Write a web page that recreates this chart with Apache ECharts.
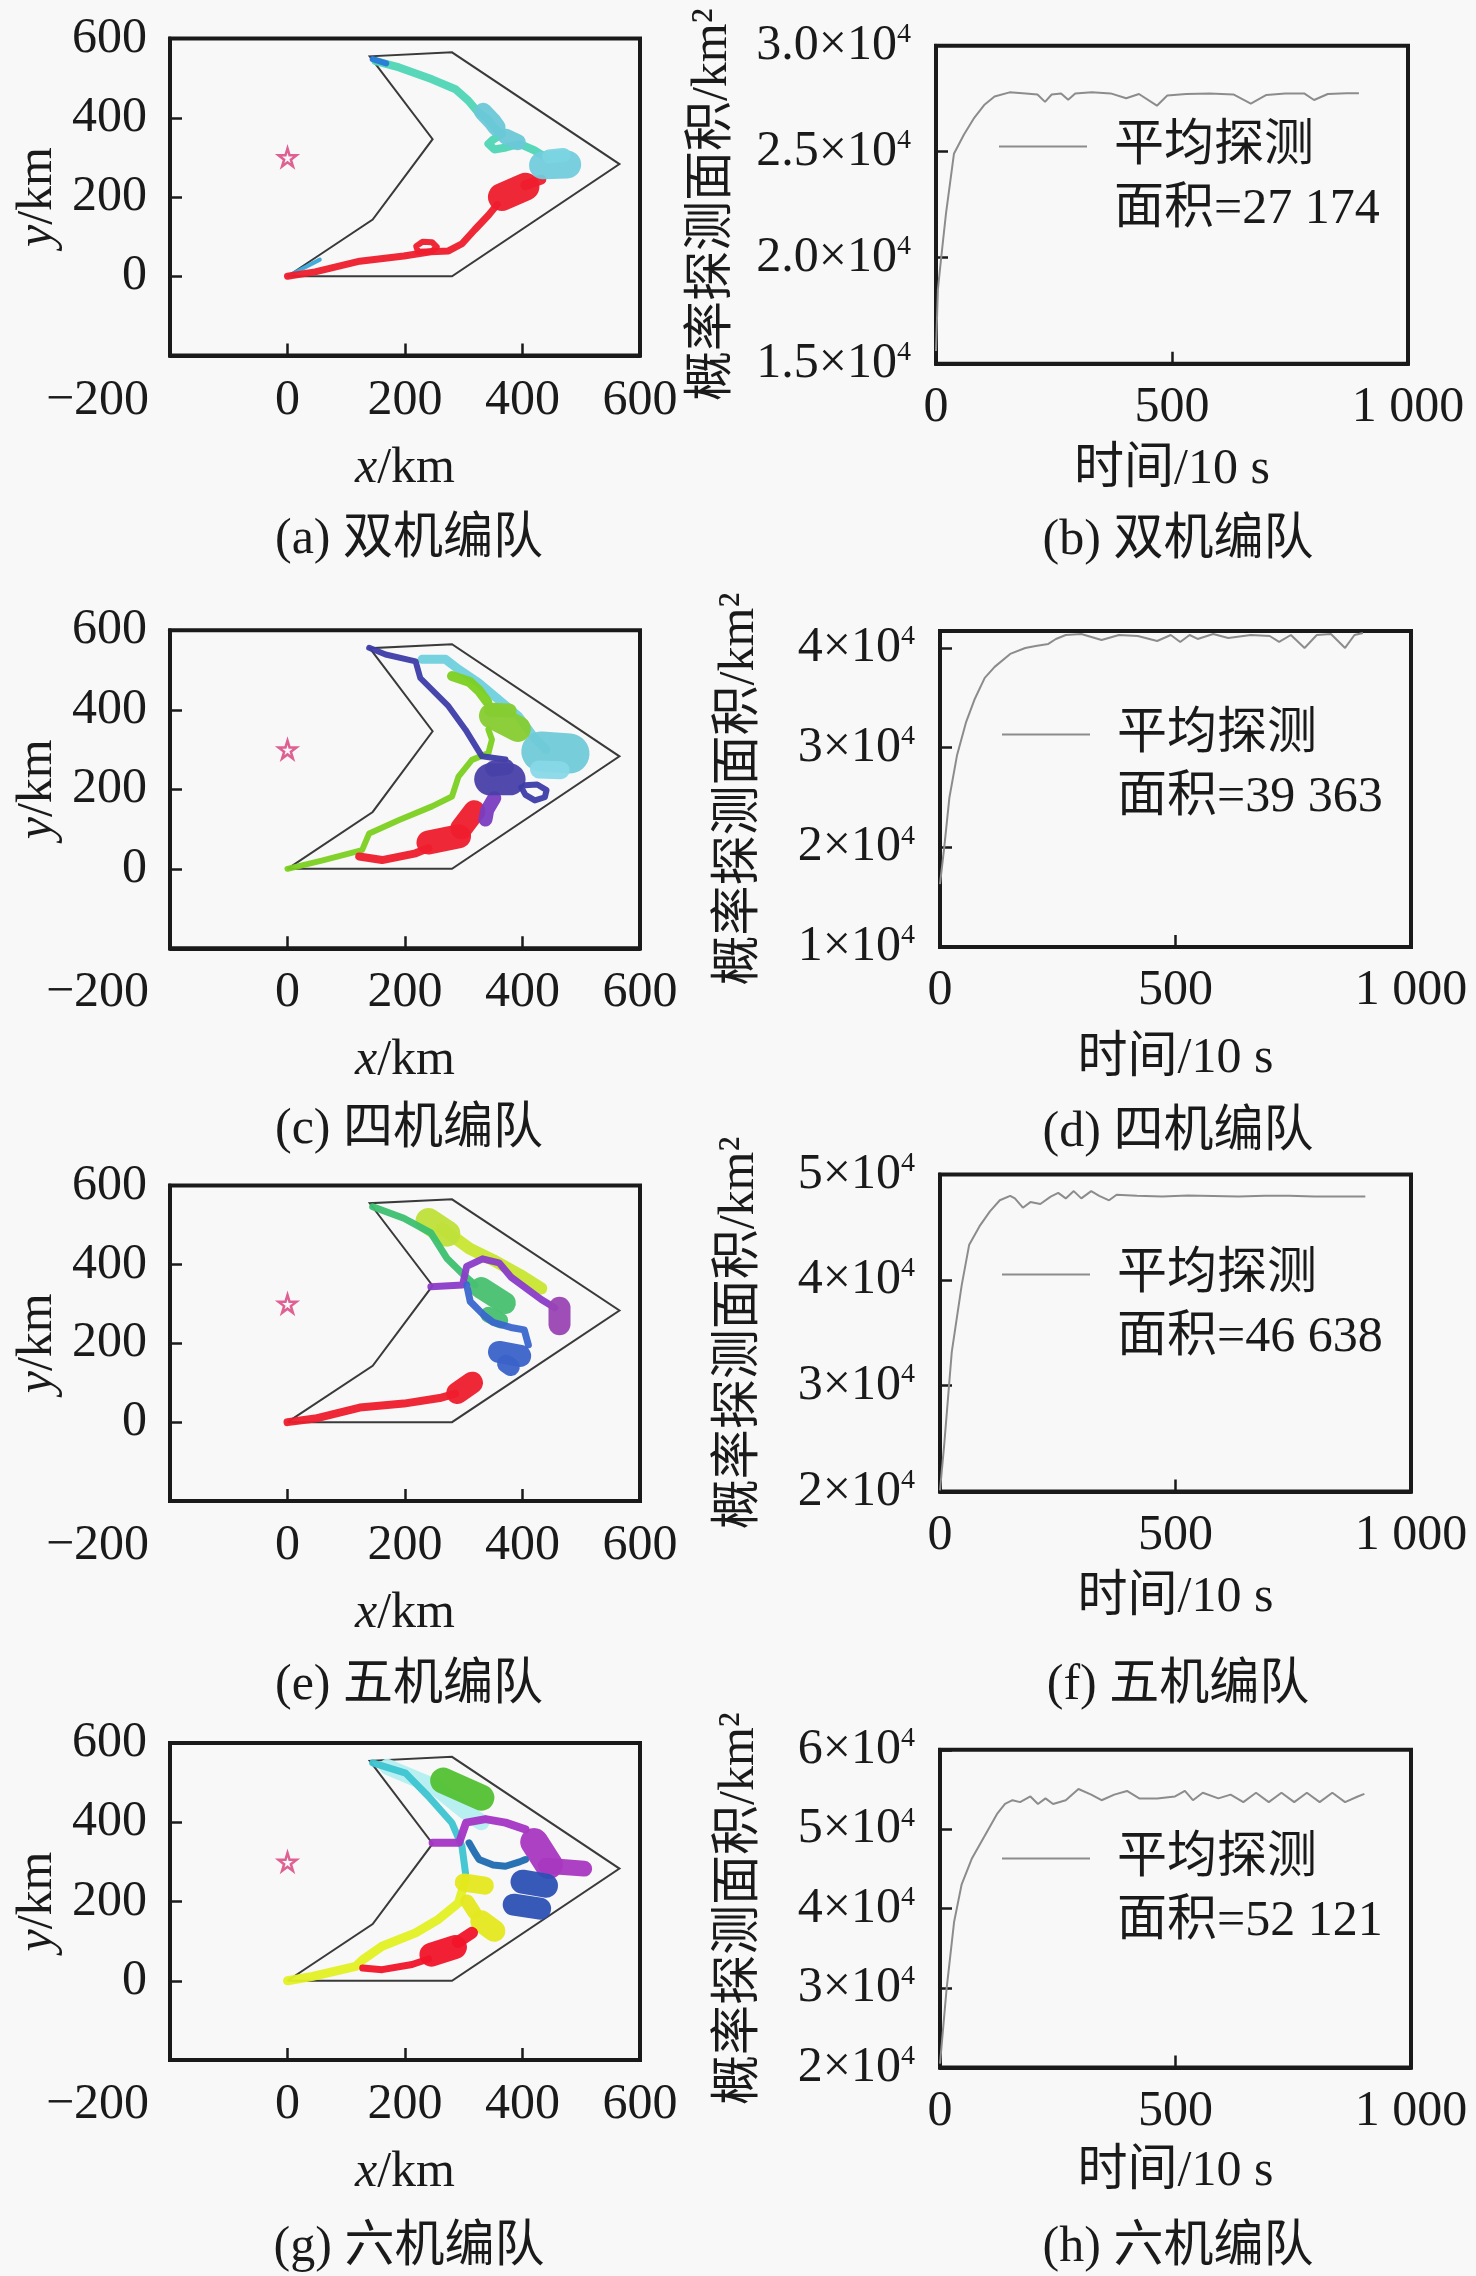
<!DOCTYPE html>
<html>
<head>
<meta charset="utf-8">
<script src="https://cdn.jsdelivr.net/npm/echarts@6/dist/echarts.min.js"></script>
<style>
html,body{margin:0;padding:0;background:#f8f8f8;}
#main{width:1476px;height:2276px;}
</style>
</head>
<body>
<div id="main"></div>
<script>
// 任务区边界与目标点
var bound = [[0,0],[280,0],[565,283],[280,565],[140,555],[247,346],[145,143],[0,0]];
var target = [[0,300]];

// (a) 双机编队 轨迹
var aBlueLow = [[3,2],[55,42]];
var aRed = [[0,0],[47,11],[123,38],[198,51],[244,62],[274,64],[297,82],[319,118],[342,154],[357,181]];
var aRedLoop = [[222,62],[219,76],[230,87],[246,86],[254,74],[246,63],[222,62]];
var aRedBlob = [[365,200],[405,226]];
var aRedTail = [[405,230],[432,244]];
var aBlue = [[145,548],[168,537]];
var aTeal = [[150,543],[190,527],[246,497],[286,472],[308,443],[325,413],[340,398],[352,375],[365,359],[350,345],[342,334],[352,320],[372,325],[395,334],[420,318],[440,300]];
var aCyanBlob = [[333,415],[348,392],[356,376]];
var aCyanMid = [[372,352],[392,338]];
var aCyanBig = [[435,280],[476,282]];
var aCyanLow = [[445,302],[470,306]];

// (c) 四机编队 轨迹
var cIndigo = [[139,556],[167,539],[218,522],[226,480],[274,409],[303,350],[331,283],[355,278],[371,275]];
var cIndigoBlob = [[345,225],[378,225]];
var cIndigoBlob2 = [[350,252],[372,256]];
var cIndigoLoop = [[398,205],[405,186],[421,172],[438,180],[441,198],[425,212],[404,210]];
var cPurple = [[352,178],[340,148],[337,124]];
var cRed = [[122,31],[161,22],[218,39],[240,52]];
var cRedBlob = [[240,66],[292,82]];
var cRedBlob2 = [[296,102],[318,145]];
var cGreen = [[0,0],[60,21],[127,47],[139,89],[190,123],[246,157],[280,182],[291,232],[314,274],[342,291],[348,325],[342,350]];
var cGreenBlob = [[348,385],[392,352]];
var cGreenBlob2 = [[346,400],[378,398]];
var cGreen2 = [[280,485],[310,470],[326,448],[340,420]];
var cCyan = [[229,527],[269,527],[291,502],[325,468],[359,426],[393,384],[420,330],[440,300]];
var cCyanBlob = [[432,295],[480,290]];
var cCyanLow = [[428,250],[465,248]];

// (e) 五机编队 轨迹
var eRed = [[0,0],[47,9],[123,37],[198,47],[259,61],[285,72]];
var eRedBlob = [[289,74],[314,100]];
var eGreen = [[145,546],[198,517],[244,480],[272,414],[298,376],[319,348]];
var eGreenBlob = [[330,340],[370,302]];
var eGreenBlob2 = [[342,272],[362,258]];
var eLime = [[240,510],[272,478]];
var eLimeBand = [[262,492],[310,440],[350,411],[395,374],[432,339]];
var ePurple = [[244,343],[298,348],[305,395],[332,414],[360,404],[381,367],[432,311],[455,290]];
var ePurpleBlob = [[463,290],[463,248]];
var eBlue = [[305,348],[311,306],[335,270],[350,253],[380,240],[403,234],[410,196]];
var eBlueBlob = [[360,178],[396,168]];
var eBlueBlob2 = [[372,148],[380,140]];

// (g) 六机编队 轨迹
var gPale = [[170,540],[250,490],[300,430],[330,400]];
var gTeal = [[145,550],[201,524],[240,465],[280,398],[297,339],[303,272]];
var gGreen = [[265,505],[330,462]];
var gYellow = [[0,0],[43,11],[116,36],[128,53],[161,87],[218,121],[257,155],[291,196],[303,255]];
var gYellowBlob = [[300,248],[336,240]];
var gYellowMid = [[306,200],[318,172]];
var gYellowLow = [[330,150],[352,126]];
var gRed = [[128,32],[161,28],[212,41],[240,55]];
var gRedBlob = [[245,66],[285,85]];
var gRedTail = [[290,98],[314,121]];
var gMagenta = [[247,348],[292,348],[304,399],[337,408],[371,399],[405,382]];
var gMagentaBlob = [[420,350],[445,292]];
var gMagentaTail = [[440,290],[505,283]];
var gRing = [[309,348],[320,320],[326,306],[350,292],[371,289],[395,300],[405,306]];
var gBlueBlob = [[400,250],[440,240]];
var gBlueBlob2 = [[385,192],[430,182]];

// 概率探测面积曲线
var tB = [0,4,11,21,38,59,81,102,124,156,190,215,231,245,265,280,295,330,370,403,430,468,490,530,580,630,667,700,740,780,801,830,870,896];
var vB = [15600,18500,20000,22050,24900,25800,26600,27200,27600,27800,27750,27700,27350,27700,27750,27450,27750,27800,27750,27520,27720,27170,27650,27720,27750,27700,27270,27680,27740,27750,27440,27720,27760,27760];
var tD = [0,9,20,36,55,73,95,116,149,181,203,230,246,267,300,343,380,420,461,490,510,530,547,580,612,660,700,720,745,774,800,830,860,880,898];
var vD = [16300,20000,25000,29200,32500,34800,37000,38100,39400,40000,40200,40400,40900,41300,41400,40800,41300,41200,40700,41300,40600,41300,40900,41400,41000,41300,41200,40600,41300,40000,41300,41400,40000,41300,41500];
var tF = [0,9,25,46,62,84,106,127,149,159,176,192,213,235,251,267,284,300,321,338,359,375,418,472,526,580,634,690,741,795,849,903];
var vF = [20100,24450,33200,39500,43350,45100,46500,47550,47970,47730,46850,47380,47200,47900,48250,47730,48420,47730,48420,47970,47550,48080,47970,47900,48000,47950,47900,47980,47970,47920,47900,47900];
var tH = [0,14,30,46,68,95,122,138,154,170,192,208,224,240,267,294,321,343,370,397,423,461,499,520,537,558,591,617,644,671,698,725,752,779,806,833,860,887,901];
var vH = [20470,29880,38350,43060,46350,49180,52000,53180,53650,53410,54120,53180,53880,53180,53650,55060,54350,53650,54350,54820,53880,53880,54120,54820,53650,54590,53880,54350,53410,54590,53410,54590,53410,54590,53410,54590,53410,54120,54450];

var areaText = ['27 174','39 363','46 638','52 121'];
var mapCaps = ['(a) 双机编队','(c) 四机编队','(e) 五机编队','(g) 六机编队'];
var curveCaps = ['(b) 双机编队','(d) 四机编队','(f) 五机编队','(h) 六机编队'];
var yMin = [15000,10000,20000,20000];
var yMax = [30000,41700,50000,60000];
var yStep = [5000,10000,10000,10000];

var FONT = '"Liberation Serif", "Noto Sans CJK SC", serif';
var INK = '#1a1a1a';
var RED = '#ee1c2c';

// 每个子图的 [数据, 颜色, 线宽]
var mapTracks = [
	[[aBlueLow,'#3aa8d8',4],[aRed,RED,7],[aRedLoop,RED,6],[aRedBlob,RED,28],[aRedTail,RED,10],
	 [aTeal,'#4fd6b4',8],[aBlue,'#2a7ad8',6],[aCyanBlob,'#6cc8d8',18],[aCyanMid,'#6cc8d8',16],[aCyanBig,'#72ccdc',28],[aCyanLow,'#7ad4e0',14]],
	[[cCyan,'#6fd0dc',9],[cCyanBlob,'#70cad8',40],[cCyanLow,'#88d8e8',18],[cGreen2,'#7cd020',10],[cGreen,'#7cd020',6],[cGreenBlob,'#86cc30',26],[cGreenBlob2,'#86cc30',14],
	 [cRed,RED,8],[cRedBlob,RED,24],[cRedBlob2,RED,22],[cPurple,'#7a3cc0',14],[cIndigo,'#3c3ca8',6],[cIndigoBlob,'#4840a8',32],[cIndigoBlob2,'#4840a8',16],[cIndigoLoop,'#3c3ca8',6]],
	[[eRed,RED,8],[eRedBlob,RED,22],[eLimeBand,'#c8e632',12],[eLime,'#bfe03a',26],[eGreen,'#3cc070',7],[eGreenBlob,'#48c070',22],[eGreenBlob2,'#48c070',16],
	 [ePurple,'#8a3cc8',7],[ePurpleBlob,'#9a44b4',22],[eBlue,'#3a66cc',7],[eBlueBlob,'#3a62c8',22],[eBlueBlob2,'#3a62c8',18]],
	[[gPale,'#b4eef0',16],[gTeal,'#3cc4d0',7],[gGreen,'#52c032',26],[gYellow,'#e2f024',9],[gYellowBlob,'#e4e81e',18],[gYellowMid,'#e4e81e',14],[gYellowLow,'#e4e81e',22],
	 [gRed,'#f0142a',7],[gRedBlob,'#f0142a',24],[gRedTail,'#f0142a',12],[gMagenta,'#a434c4',8],[gMagentaBlob,'#a838c0',28],[gMagentaTail,'#a838c0',16],
	 [gRing,'#1e6cb0',7],[gBlueBlob,'#2c50b4',24],[gBlueBlob2,'#2c50b4',22]]
];
var curves = [[tB,vB],[tD,vD],[tF,vF],[tH,vH]];

// 版面位置
var mapBox = [[38.5,317],[630.3,318],[1185.5,315.5],[1743,317]];
var curveBox = [[936,45.7,472,318],[940,631,471,316],[940,1174.4,471,317],[940,1749.8,471,317.6]];
var mapCapY = [535,1125,1681,2243];
var curveCapY = [536,1128,1681,2243];
var curveNameGap = [81,87,81,79];
var curveYGap = [198,175,175,175];
var legendPos = [[999,52],[1002,640],[1002,1180],[1002,1764]];

var chart = echarts.init(document.getElementById('main'));

var grid = [], xAxis = [], yAxis = [], series = [], title = [], legend = [];
var tickStyle = {show:true, inside:true, length:12, lineStyle:{color:INK, width:2.5}};
// 轴线与外框重合，不随 0 点移动
var axisLine = {show:true, onZero:false, lineStyle:{color:INK, width:4}};

for (var i = 0; i < 4; i++) {
	grid.push({left:170, top:mapBox[i][0], width:470, height:mapBox[i][1], show:true, borderColor:INK, borderWidth:4});
	xAxis.push({
		gridIndex:i, type:'value', min:-200, max:600, interval:200,
		axisLine:axisLine, splitLine:{show:false}, axisTick:tickStyle,
		axisLabel:{margin:20, fontSize:50, fontFamily:FONT, color:INK,
			formatter:function(v){ return v === -200 ? '{l|\u2212200}' : String(v); },
			rich:{l:{padding:[0,145,0,0], fontSize:50, fontFamily:FONT, color:INK}}},
		name:'{i|x}/km', nameLocation:'middle', nameGap:88,
		nameTextStyle:{fontSize:50, fontFamily:FONT, color:INK, rich:{i:{fontStyle:'italic', fontSize:50, fontFamily:FONT, color:INK}}}
	});
	yAxis.push({
		gridIndex:i, type:'value', min:-200, max:600, interval:200,
		axisLine:axisLine, splitLine:{show:false}, axisTick:tickStyle,
		axisLabel:{margin:23, fontSize:50, fontFamily:FONT, color:INK,
			formatter:function(v){ return v === -200 ? '' : String(v); }},
		name:'{i|y}/km', nameLocation:'middle', nameRotate:90, nameGap:107,
		nameTextStyle:{fontSize:50, fontFamily:FONT, color:INK, rich:{i:{fontStyle:'italic', fontSize:50, fontFamily:FONT, color:INK}}}
	});
	series.push({type:'line', xAxisIndex:i, yAxisIndex:i, data:bound, symbol:'none', silent:true, z:2,
		lineStyle:{color:'#3a3a3a', width:2, join:'miter'}});
	mapTracks[i].forEach(function(tr){
		series.push({type:'line', xAxisIndex:i, yAxisIndex:i, data:tr[0], symbol:'none', silent:true, z:3,
			lineStyle:{color:tr[1], width:tr[2], cap:'round', join:'round', opacity:0.95}});
	});
	series.push({type:'scatter', xAxisIndex:i, yAxisIndex:i, data:target, silent:true, z:4,
		symbol:'path://M50,0 L61,35 L98,35 L68,57 L79,91 L50,70 L21,91 L32,57 L2,35 L39,35 Z', symbolSize:18,
		itemStyle:{color:'rgba(255,255,255,0)', borderColor:'#d83a78', borderWidth:2.5}});
	title.push({text:mapCaps[i], left:404, top:mapCapY[i], textAlign:'center', textVerticalAlign:'middle',
		textStyle:{fontSize:50, fontFamily:FONT, color:INK, fontWeight:'normal'}});
}

for (var k = 0; k < 4; k++) {
	var gi = k + 4;
	var b = curveBox[k];
	grid.push({left:b[0], top:b[1], width:b[2], height:b[3], show:true, borderColor:INK, borderWidth:4});
	xAxis.push({
		gridIndex:gi, type:'value', min:0, max:1000, interval:500,
		axisLine:axisLine, splitLine:{show:false}, axisTick:tickStyle,
		axisLabel:{margin:19, fontSize:50, fontFamily:FONT, color:INK,
			formatter:function(v){ return v === 1000 ? '1 000' : String(v); }},
		name:'时间/10 s', nameLocation:'middle', nameGap:curveNameGap[k],
		nameTextStyle:{fontSize:50, fontFamily:FONT, color:INK}
	});
	(function(k){
		yAxis.push({
			gridIndex:gi, type:'value', min:yMin[k], max:yMax[k], interval:yStep[k],
			axisLine:axisLine, splitLine:{show:false}, axisTick:tickStyle,
			axisLabel:{margin:25, fontSize:50, fontFamily:FONT, color:INK,
				formatter:function(v){
					if (v % yStep[k] !== 0) return '';
					var m = k === 0 ? (v / 10000).toFixed(1) : String(v / 10000);
					return '{n|' + m + '\u00d710}{s|4}';
				},
				rich:{n:{fontSize:50, fontFamily:FONT, color:INK}, s:{fontSize:28, fontFamily:FONT, color:INK, verticalAlign:'top'}}},
			name:'概率探测面积/km\u00b2', nameLocation:'middle', nameRotate:90, nameGap:curveYGap[k],
			nameTextStyle:{fontSize:50, fontFamily:FONT, color:INK}
		});
		var pts = curves[k][0].map(function(t, j){ return [t, curves[k][1][j]]; });
		series.push({type:'line', name:'平均探测', xAxisIndex:gi, yAxisIndex:gi, data:pts, symbol:'none', silent:true,
			lineStyle:{color:'#8c8c8c', width:2}, itemStyle:{color:'#8c8c8c'}});
		// 首行留空，使图例线条与“平均探测”一行对齐
		legend.push({left:legendPos[k][0], top:legendPos[k][1], padding:0, icon:'rect', itemWidth:88, itemHeight:2,
			selectedMode:false, data:['平均探测'],
			formatter:function(){ return '\n平均探测\n面积=' + areaText[k]; },
			textStyle:{fontSize:50, fontFamily:FONT, color:INK, lineHeight:63, padding:[0,0,0,22]}});
	})(k);
	title.push({text:curveCaps[k], left:1173, top:curveCapY[k], textAlign:'center', textVerticalAlign:'middle',
		textStyle:{fontSize:50, fontFamily:FONT, color:INK, fontWeight:'normal'}});
}

chart.setOption({
	backgroundColor:'#f8f8f8',
	animation:false,
	title:title,
	legend:legend,
	grid:grid,
	xAxis:xAxis,
	yAxis:yAxis,
	series:series
});
</script>
</body>
</html>
